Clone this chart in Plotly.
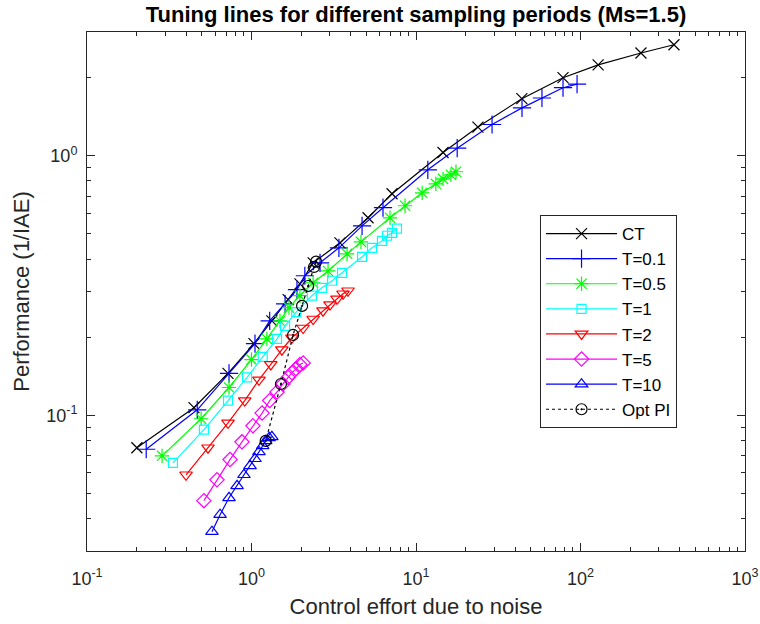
import plotly.graph_objects as go

# ---- data ----
ct_x = [0.201, 0.447, 0.72, 1.035, 1.33, 1.67, 1.97, 2.37, 3.45, 5.11, 7.15, 14.6, 23.8, 44.0, 78.3, 128, 233, 370]
ct_y = [0.075, 0.107, 0.145, 0.189, 0.231, 0.279, 0.321, 0.387, 0.462, 0.577, 0.714, 1.03, 1.29, 1.66, 2.0, 2.24, 2.49, 2.68]

t01_x = [0.229, 0.468, 0.73, 1.05, 1.29, 1.60, 1.89, 2.11, 2.61, 3.40, 4.70, 6.30, 11.8, 17.8, 29.0, 44.1, 58.3, 78.3, 95.3]
t01_y = [0.074, 0.105, 0.145, 0.189, 0.231, 0.269, 0.305, 0.345, 0.387, 0.442, 0.537, 0.631, 0.883, 1.07, 1.32, 1.53, 1.67, 1.83, 1.89]

t05_x = [0.286, 0.494, 0.73, 1.0, 1.24, 1.49, 1.69, 1.97, 2.37, 2.92, 3.81, 4.63, 6.95, 8.58, 10.9, 13.2, 14.6, 16.3, 17.5]
t05_y = [0.0698, 0.097, 0.128, 0.164, 0.197, 0.231, 0.26, 0.289, 0.324, 0.360, 0.419, 0.466, 0.577, 0.642, 0.72, 0.78, 0.815, 0.845, 0.868]

t1_x = [0.333, 0.514, 0.72, 0.94, 1.17, 1.43, 1.6, 1.87, 2.33, 2.68, 3.09, 3.55, 4.70, 5.40, 6.21, 6.67, 7.15, 7.66]
t1_y = [0.0656, 0.088, 0.114, 0.14, 0.168, 0.197, 0.221, 0.25, 0.289, 0.31, 0.33, 0.354, 0.408, 0.442, 0.47, 0.492, 0.505, 0.524]

t2_x = [0.40, 0.544, 0.72, 0.91, 1.11, 1.31, 1.53, 1.76, 2.06, 2.37, 2.72, 3.0, 3.31, 3.60, 3.86]
t2_y = [0.059, 0.075, 0.0935, 0.114, 0.137, 0.157, 0.179, 0.199, 0.217, 0.235, 0.253, 0.267, 0.281, 0.294, 0.302]

t5_x = [0.514, 0.617, 0.74, 0.875, 1.02, 1.16, 1.29, 1.43, 1.55, 1.67, 1.76, 1.87, 1.97, 2.06]
t5_y = [0.0469, 0.0564, 0.0675, 0.079, 0.0911, 0.102, 0.114, 0.123, 0.132, 0.14, 0.146, 0.151, 0.157, 0.159]

t10_x = [0.575, 0.644, 0.73, 0.817, 0.90, 0.98, 1.05, 1.11, 1.17, 1.22, 1.28, 1.33]
t10_y = [0.0356, 0.0414, 0.0481, 0.0535, 0.059, 0.0639, 0.068, 0.0723, 0.0763, 0.0797, 0.0819, 0.0826]

opt_x = [2.47, 2.40, 2.21, 2.03, 1.79, 1.51, 1.22]
opt_y = [0.391, 0.373, 0.315, 0.264, 0.204, 0.132, 0.0797]

x_tickvals = [0.1, 1, 10, 100, 1000]
x_ticktext = ["10<sup>-1</sup>", "10<sup>0</sup>", "10<sup>1</sup>", "10<sup>2</sup>", "10<sup>3</sup>"]
y_tickvals = [0.1, 1]
y_ticktext = ["10<sup>-1</sup>", "10<sup>0</sup>"]

series = [
    ("CT", ct_x, ct_y, "#000000", "x-thin-open", 11),
    ("T=0.1", t01_x, t01_y, "#0000ff", "cross-thin-open", 13),
    ("T=0.5", t05_x, t05_y, "#00ff00", "asterisk-open", 12),
    ("T=1", t1_x, t1_y, "#00ffff", "square-open", 9),
    ("T=2", t2_x, t2_y, "#ff0000", "triangle-down-open", 11),
    ("T=5", t5_x, t5_y, "#ff00ff", "diamond-open", 11),
    ("T=10", t10_x, t10_y, "#0000ff", "triangle-up-open", 11),
]

FONT = "Liberation Sans, Arial, sans-serif"

fig = go.Figure()
for i, (name, xs, ys, col, sym, sz) in enumerate(series):
    fig.add_trace(go.Scatter(
        x=xs, y=ys, name=name, mode="lines+markers", legendgroup=f"g{i}",
        line=dict(color=col, width=1.2),
        marker=dict(symbol=sym, size=sz, color=col, line=dict(color=col, width=1.2)),
    ))
fig.add_trace(go.Scatter(
    x=opt_x, y=opt_y, name="Opt PI", mode="lines+markers", legendgroup="g7",
    line=dict(color="#000000", width=1.2, dash="dot"),
    marker=dict(symbol="circle-open-dot", size=11, color="#000000", line=dict(color="#000000", width=1.2)),
))

axis_common = dict(
    type="log", showline=True, linecolor="#262626", linewidth=1, mirror="ticks",
    ticks="inside", ticklen=8, tickcolor="#262626", showgrid=False, zeroline=False,
    automargin=False,
    tickfont=dict(size=18, color="#262626", family=FONT),
)
minor_x = [m * d for d in [0.1, 1, 10, 100] for m in range(2, 10)]
minor_y = [m * d for d in [0.01, 0.1, 1] for m in range(2, 10) if 0.03 <= m * d <= 3]

fig.update_xaxes(**axis_common, range=[-1, 3], tickmode="array", tickvals=x_tickvals, ticktext=x_ticktext,
                 ticklabelstandoff=11,
                 minor=dict(tickmode="array", tickvals=minor_x, ticks="inside", ticklen=4, tickcolor="#262626"),
                 title=dict(text="Control effort due to noise", font=dict(size=22, color="#262626", family=FONT), standoff=11))
fig.update_yaxes(**axis_common, range=[-1.5229, 0.4771], tickmode="array", tickvals=y_tickvals, ticktext=y_ticktext,
                 ticklabelstandoff=5,
                 minor=dict(tickmode="array", tickvals=minor_y, ticks="inside", ticklen=4, tickcolor="#262626"),
                 title=dict(text="Performance (1/IAE)", font=dict(size=22, color="#262626", family=FONT), standoff=10))

fig.update_layout(
    width=760, height=624,
    margin=dict(l=87, r=15, t=32, b=73),
    paper_bgcolor="white", plot_bgcolor="white",
    font=dict(family=FONT, color="#262626"),
    title=dict(text="<b>Tuning lines for different sampling periods (Ms=1.5)</b>", x=0.5474, xanchor="center",
               y=0.9776, yanchor="middle", font=dict(size=22, color="#000000", family=FONT)),
    legend=dict(x=0.6885, y=0.6474, xanchor="left", yanchor="top", bgcolor="white",
                bordercolor="#262626", borderwidth=1, font=dict(size=17, color="#000000", family=FONT),
                itemwidth=71, traceorder="grouped", tracegroupgap=0),
    showlegend=True,
)

# remove the page's default 8px body margin so the figure sits at the window origin
fig.write_html("out.html", config={"displayModeBar": False},
               post_script="document.body.style.margin='0';")
